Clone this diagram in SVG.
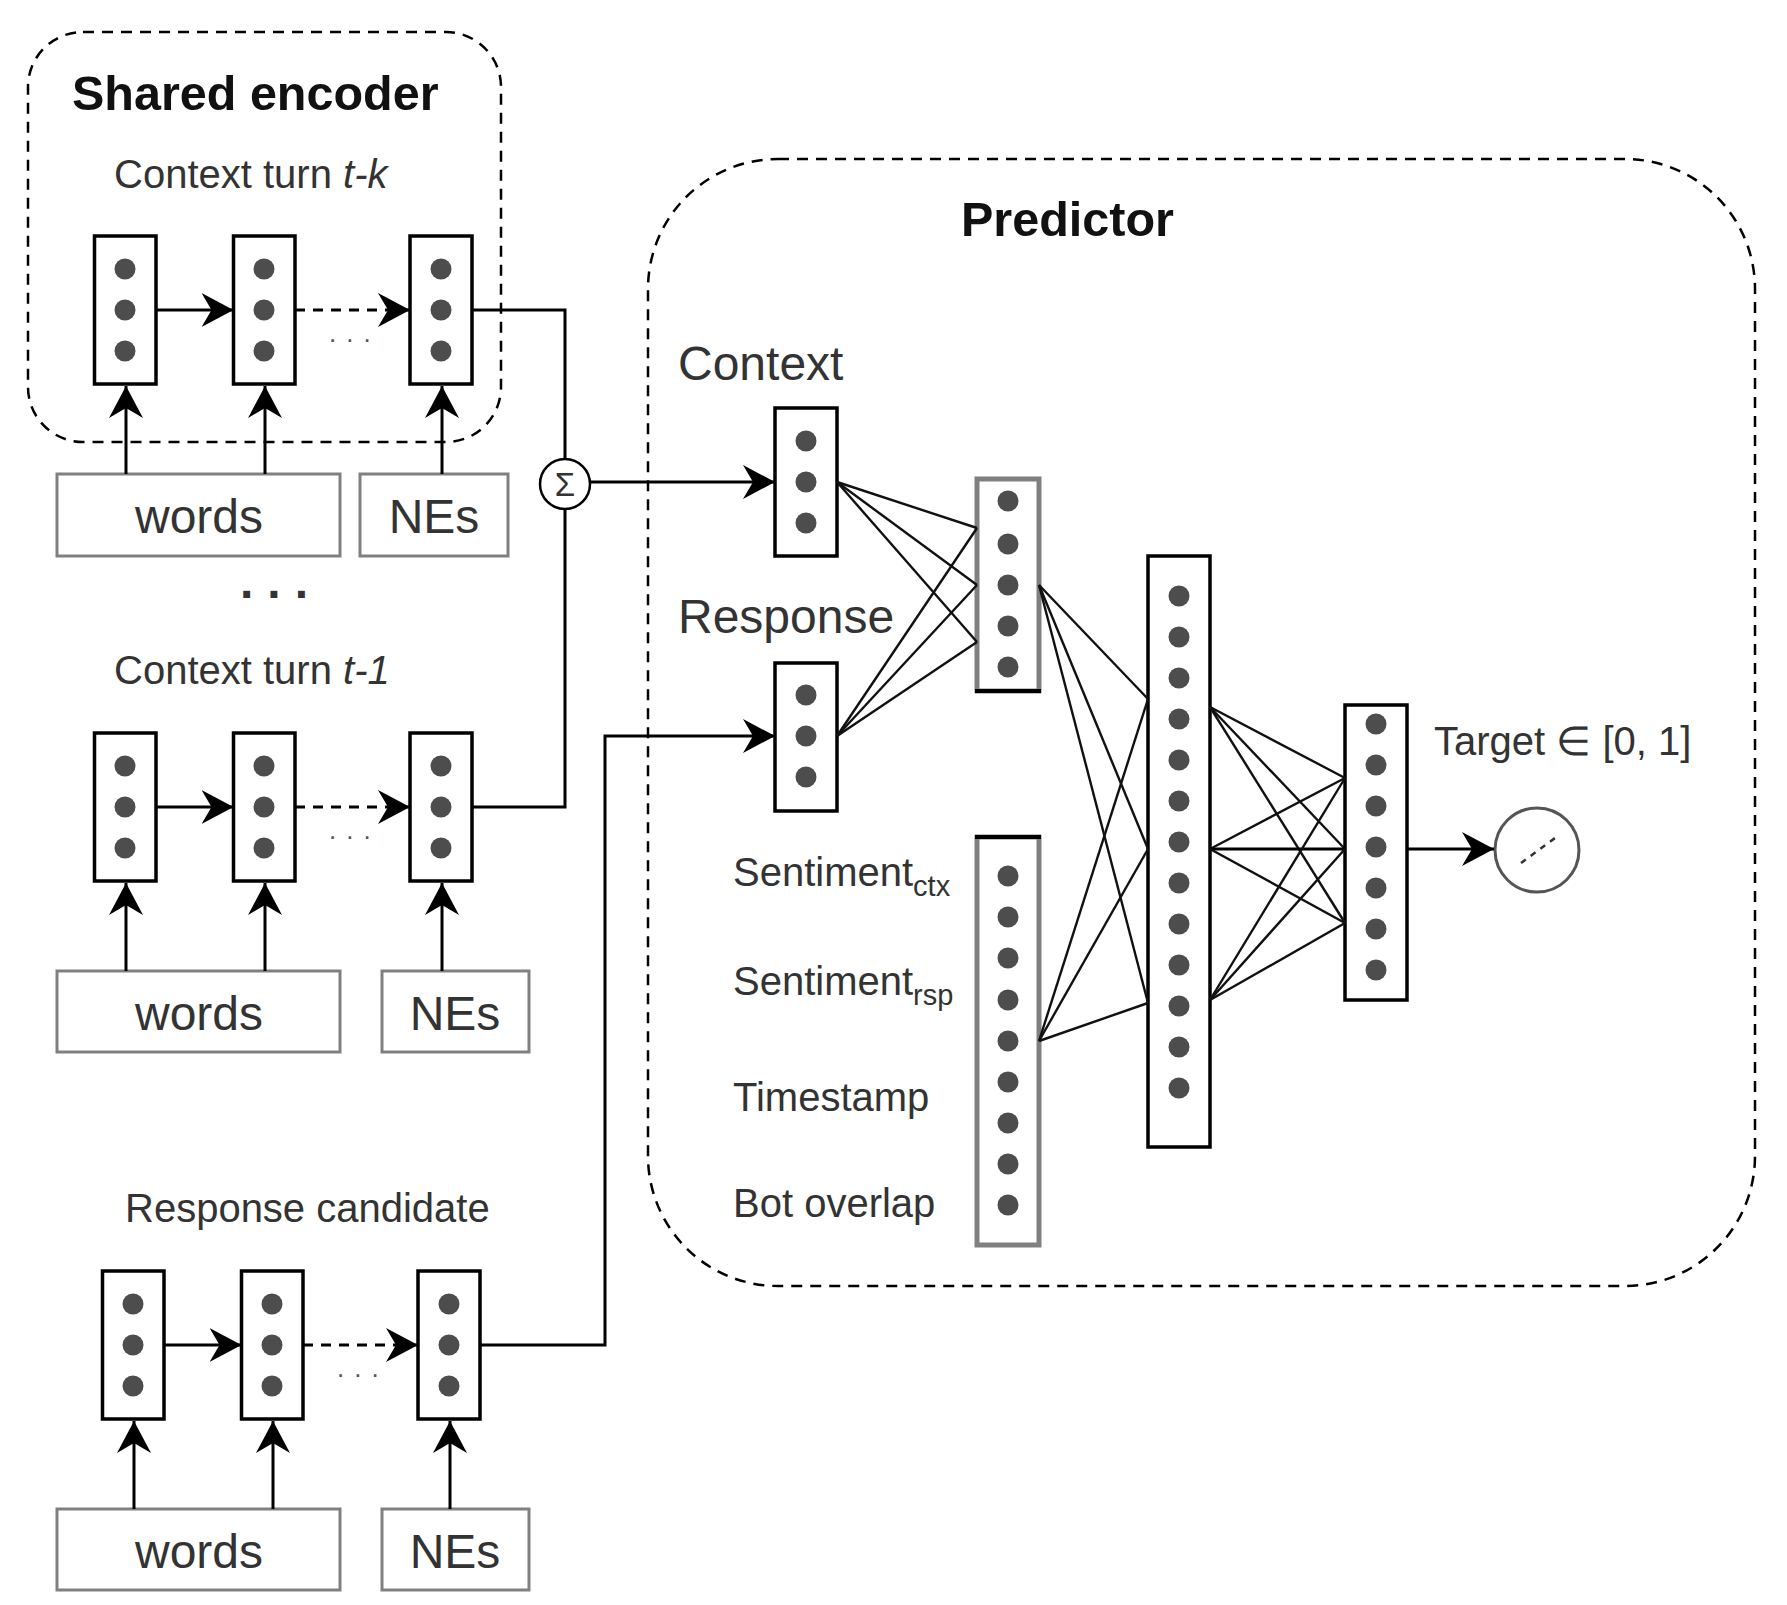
<svg xmlns="http://www.w3.org/2000/svg" width="1787" height="1605" viewBox="0 0 1787 1605">
<style>
text{font-family:"Liberation Sans",Arial,sans-serif;fill:#333}
.title{font-weight:bold;font-size:48.5px;fill:#111}
.lbl{font-size:40px}
.big{font-size:48px}
.cell{fill:#fff;stroke:#000;stroke-width:3.5}
.gcell{fill:#fff;stroke:#808080;stroke-width:5}
.box{fill:#fff;stroke:#808080;stroke-width:3}
.dot{fill:#4d4d4d}
.grp{fill:none;stroke:#000;stroke-width:2.5;stroke-dasharray:11 8}
.ln{fill:none;stroke:#000;stroke-width:3}
.thin{fill:none;stroke:#111;stroke-width:2.4}
.arr{marker-end:url(#ah)}
.dash{stroke-dasharray:10 8}
.ell{font-size:26px;fill:#555;letter-spacing:10px}
</style>
<defs>
<marker id="ah" markerUnits="userSpaceOnUse" markerWidth="33" markerHeight="34" refX="32" refY="17" orient="auto">
<path d="M0,0 L32,17 L0,34 L10,17 z" fill="#000"/>
</marker>
</defs>

<g id="shared-encoder">
<rect class="grp" x="28" y="32" width="473" height="410" rx="55"/>
<text class="title" x="72" y="110">Shared encoder</text>
</g>

<g id="predictor">
<rect class="grp" x="648" y="159" width="1107" height="1127" rx="130"/>
<text class="title" x="961" y="236">Predictor</text>
</g>

<g id="turn-tk">
<text class="lbl" x="114" y="188">Context turn <tspan font-style="italic">t-k</tspan></text>
<rect class="cell" x="94.5" y="236" width="61.5" height="148"/>
<circle class="dot" cx="125" cy="269" r="10.5"/><circle class="dot" cx="125" cy="310" r="10.5"/><circle class="dot" cx="125" cy="351" r="10.5"/>
<rect class="cell" x="233.5" y="236" width="61.5" height="148"/>
<circle class="dot" cx="264" cy="269" r="10.5"/><circle class="dot" cx="264" cy="310" r="10.5"/><circle class="dot" cx="264" cy="351" r="10.5"/>
<rect class="cell" x="410" y="236" width="62" height="148"/>
<circle class="dot" cx="441" cy="269" r="10.5"/><circle class="dot" cx="441" cy="310" r="10.5"/><circle class="dot" cx="441" cy="351" r="10.5"/>
<text class="ell" x="329" y="342">...</text>
</g>
<g id="words-1"><rect class="box" x="57" y="474" width="283" height="82"/><text class="big" x="199" y="533" text-anchor="middle">words</text></g>
<g id="nes-1"><rect class="box" x="360" y="474" width="148" height="82"/><text class="big" x="434" y="533" text-anchor="middle">NEs</text></g>
<text x="281" y="598" text-anchor="middle" font-size="48" font-weight="bold" letter-spacing="14" fill="#111">...</text>

<g id="turn-t1">
<text class="lbl" x="114" y="684">Context turn <tspan font-style="italic">t-1</tspan></text>
<rect class="cell" x="94.5" y="733" width="61.5" height="148"/>
<circle class="dot" cx="125" cy="766" r="10.5"/><circle class="dot" cx="125" cy="807" r="10.5"/><circle class="dot" cx="125" cy="848" r="10.5"/>
<rect class="cell" x="233.5" y="733" width="61.5" height="148"/>
<circle class="dot" cx="264" cy="766" r="10.5"/><circle class="dot" cx="264" cy="807" r="10.5"/><circle class="dot" cx="264" cy="848" r="10.5"/>
<rect class="cell" x="410" y="733" width="62" height="148"/>
<circle class="dot" cx="441" cy="766" r="10.5"/><circle class="dot" cx="441" cy="807" r="10.5"/><circle class="dot" cx="441" cy="848" r="10.5"/>
<text class="ell" x="329" y="839">...</text>
</g>
<g id="words-2"><rect class="box" x="57" y="971" width="283" height="81"/><text class="big" x="199" y="1030" text-anchor="middle">words</text></g>
<g id="nes-2"><rect class="box" x="382" y="971" width="147" height="81"/><text class="big" x="455" y="1030" text-anchor="middle">NEs</text></g>

<g id="response-candidate">
<text class="lbl" x="125" y="1222">Response candidate</text>
<rect class="cell" x="102.5" y="1271" width="61.5" height="148"/>
<circle class="dot" cx="133" cy="1304" r="10.5"/><circle class="dot" cx="133" cy="1345" r="10.5"/><circle class="dot" cx="133" cy="1386" r="10.5"/>
<rect class="cell" x="241.5" y="1271" width="61.5" height="148"/>
<circle class="dot" cx="272" cy="1304" r="10.5"/><circle class="dot" cx="272" cy="1345" r="10.5"/><circle class="dot" cx="272" cy="1386" r="10.5"/>
<rect class="cell" x="418" y="1271" width="62" height="148"/>
<circle class="dot" cx="449" cy="1304" r="10.5"/><circle class="dot" cx="449" cy="1345" r="10.5"/><circle class="dot" cx="449" cy="1386" r="10.5"/>
<text class="ell" x="337" y="1377">...</text>
</g>
<g id="words-3"><rect class="box" x="57" y="1509" width="283" height="81"/><text class="big" x="199" y="1568" text-anchor="middle">words</text></g>
<g id="nes-3"><rect class="box" x="382" y="1509" width="147" height="81"/><text class="big" x="455" y="1568" text-anchor="middle">NEs</text></g>

<g id="sum">
<circle cx="565" cy="484" r="25" fill="#fff" stroke="#000" stroke-width="2.5"/>
<text x="565" y="496" text-anchor="middle" font-size="33" fill="#000">Σ</text>
</g>

<g id="context-vec">
<text class="big" x="678" y="380">Context</text>
<rect class="cell" x="775" y="408" width="62" height="148"/>
<circle class="dot" cx="806" cy="441" r="10.5"/><circle class="dot" cx="806" cy="482" r="10.5"/><circle class="dot" cx="806" cy="523" r="10.5"/>
</g>
<g id="response-vec">
<text class="big" x="678" y="633">Response</text>
<rect class="cell" x="775" y="663" width="62" height="148"/>
<circle class="dot" cx="806" cy="695" r="10.5"/><circle class="dot" cx="806" cy="736" r="10.5"/><circle class="dot" cx="806" cy="777" r="10.5"/>
</g>

<g id="hidden1">
<rect class="gcell" x="977" y="479" width="62" height="212"/>
<line x1="975" y1="691" x2="1041" y2="691" stroke="#000" stroke-width="4"/>
<circle class="dot" cx="1008" cy="501" r="10.5"/><circle class="dot" cx="1008" cy="544" r="10.5"/><circle class="dot" cx="1008" cy="585" r="10.5"/><circle class="dot" cx="1008" cy="626" r="10.5"/><circle class="dot" cx="1008" cy="667" r="10.5"/>
</g>

<g id="features">
<text class="lbl" x="733" y="886">Sentiment<tspan font-size="29" dy="10">ctx</tspan></text>
<text class="lbl" x="733" y="995">Sentiment<tspan font-size="29" dy="10">rsp</tspan></text>
<text class="lbl" x="733" y="1111">Timestamp</text>
<text class="lbl" x="733" y="1217">Bot overlap</text>
<rect class="gcell" x="977" y="837" width="62" height="408"/>
<line x1="975" y1="837" x2="1041" y2="837" stroke="#000" stroke-width="4"/>
<circle class="dot" cx="1008" cy="876" r="10.5"/><circle class="dot" cx="1008" cy="917" r="10.5"/><circle class="dot" cx="1008" cy="958" r="10.5"/><circle class="dot" cx="1008" cy="1000" r="10.5"/><circle class="dot" cx="1008" cy="1041" r="10.5"/><circle class="dot" cx="1008" cy="1082" r="10.5"/><circle class="dot" cx="1008" cy="1123" r="10.5"/><circle class="dot" cx="1008" cy="1164" r="10.5"/><circle class="dot" cx="1008" cy="1205" r="10.5"/>
</g>

<g id="hidden2">
<rect class="cell" x="1148" y="556" width="62" height="591"/>
<circle class="dot" cx="1179" cy="596" r="10.5"/><circle class="dot" cx="1179" cy="637" r="10.5"/><circle class="dot" cx="1179" cy="678" r="10.5"/><circle class="dot" cx="1179" cy="719" r="10.5"/><circle class="dot" cx="1179" cy="760" r="10.5"/><circle class="dot" cx="1179" cy="801" r="10.5"/><circle class="dot" cx="1179" cy="842" r="10.5"/><circle class="dot" cx="1179" cy="883" r="10.5"/><circle class="dot" cx="1179" cy="924" r="10.5"/><circle class="dot" cx="1179" cy="965" r="10.5"/><circle class="dot" cx="1179" cy="1006" r="10.5"/><circle class="dot" cx="1179" cy="1047" r="10.5"/><circle class="dot" cx="1179" cy="1088" r="10.5"/>
</g>

<g id="output-layer">
<rect class="cell" x="1345" y="705" width="62" height="295"/>
<circle class="dot" cx="1376" cy="724" r="10.5"/><circle class="dot" cx="1376" cy="765" r="10.5"/><circle class="dot" cx="1376" cy="806" r="10.5"/><circle class="dot" cx="1376" cy="847" r="10.5"/><circle class="dot" cx="1376" cy="888" r="10.5"/><circle class="dot" cx="1376" cy="929" r="10.5"/><circle class="dot" cx="1376" cy="970" r="10.5"/>
<text class="lbl" x="1434" y="755">Target ∈ [0, 1]</text>
</g>

<g id="sigmoid">
<circle cx="1537" cy="850" r="42" fill="#fff" stroke="#555" stroke-width="3"/>
<line x1="1521" y1="863" x2="1555" y2="838" stroke="#333" stroke-width="2.5" stroke-dasharray="6 6"/>
</g>

<g id="connectors">
<line class="ln arr" x1="156" y1="310" x2="233.5" y2="310"/>
<line class="ln arr dash" x1="295" y1="310" x2="410" y2="310"/>
<line class="ln arr" x1="156" y1="807" x2="233.5" y2="807"/>
<line class="ln arr dash" x1="295" y1="807" x2="410" y2="807"/>
<line class="ln arr" x1="164" y1="1345" x2="241.5" y2="1345"/>
<line class="ln arr dash" x1="303" y1="1345" x2="418" y2="1345"/>

<line class="ln arr" x1="126" y1="474" x2="126" y2="386"/>
<line class="ln arr" x1="265" y1="474" x2="265" y2="386"/>
<line class="ln arr" x1="442" y1="474" x2="442" y2="386"/>
<line class="ln arr" x1="126" y1="971" x2="126" y2="883"/>
<line class="ln arr" x1="265" y1="971" x2="265" y2="883"/>
<line class="ln arr" x1="442" y1="971" x2="442" y2="883"/>
<line class="ln arr" x1="134" y1="1509" x2="134" y2="1421"/>
<line class="ln arr" x1="273" y1="1509" x2="273" y2="1421"/>
<line class="ln arr" x1="450" y1="1509" x2="450" y2="1421"/>

<polyline class="ln" points="472,310 565,310 565,459"/>
<polyline class="ln" points="472,807 565,807 565,509"/>
<line class="ln arr" x1="590" y1="482" x2="775" y2="482"/>
<polyline class="ln arr" points="480,1345 605,1345 605,736 775,736"/>

<line class="thin" x1="837" y1="482" x2="977" y2="528"/>
<line class="thin" x1="837" y1="482" x2="977" y2="585"/>
<line class="thin" x1="837" y1="482" x2="977" y2="642"/>
<line class="thin" x1="837" y1="736" x2="977" y2="528"/>
<line class="thin" x1="837" y1="736" x2="977" y2="585"/>
<line class="thin" x1="837" y1="736" x2="977" y2="642"/>

<line class="thin" x1="1039" y1="585" x2="1148" y2="699"/>
<line class="thin" x1="1039" y1="585" x2="1148" y2="849"/>
<line class="thin" x1="1039" y1="585" x2="1148" y2="1003"/>
<line class="thin" x1="1039" y1="1041" x2="1148" y2="699"/>
<line class="thin" x1="1039" y1="1041" x2="1148" y2="849"/>
<line class="thin" x1="1039" y1="1041" x2="1148" y2="1003"/>

<line class="thin" x1="1210" y1="707" x2="1345" y2="778"/>
<line class="thin" x1="1210" y1="707" x2="1345" y2="849"/>
<line class="thin" x1="1210" y1="707" x2="1345" y2="923"/>
<line class="thin" x1="1210" y1="849" x2="1345" y2="778"/>
<line class="ln" x1="1210" y1="849" x2="1345" y2="849"/>
<line class="thin" x1="1210" y1="849" x2="1345" y2="923"/>
<line class="thin" x1="1210" y1="1000" x2="1345" y2="778"/>
<line class="thin" x1="1210" y1="1000" x2="1345" y2="849"/>
<line class="thin" x1="1210" y1="1000" x2="1345" y2="923"/>

<line class="ln arr" x1="1407" y1="849" x2="1494" y2="849"/>
</g>
</svg>
